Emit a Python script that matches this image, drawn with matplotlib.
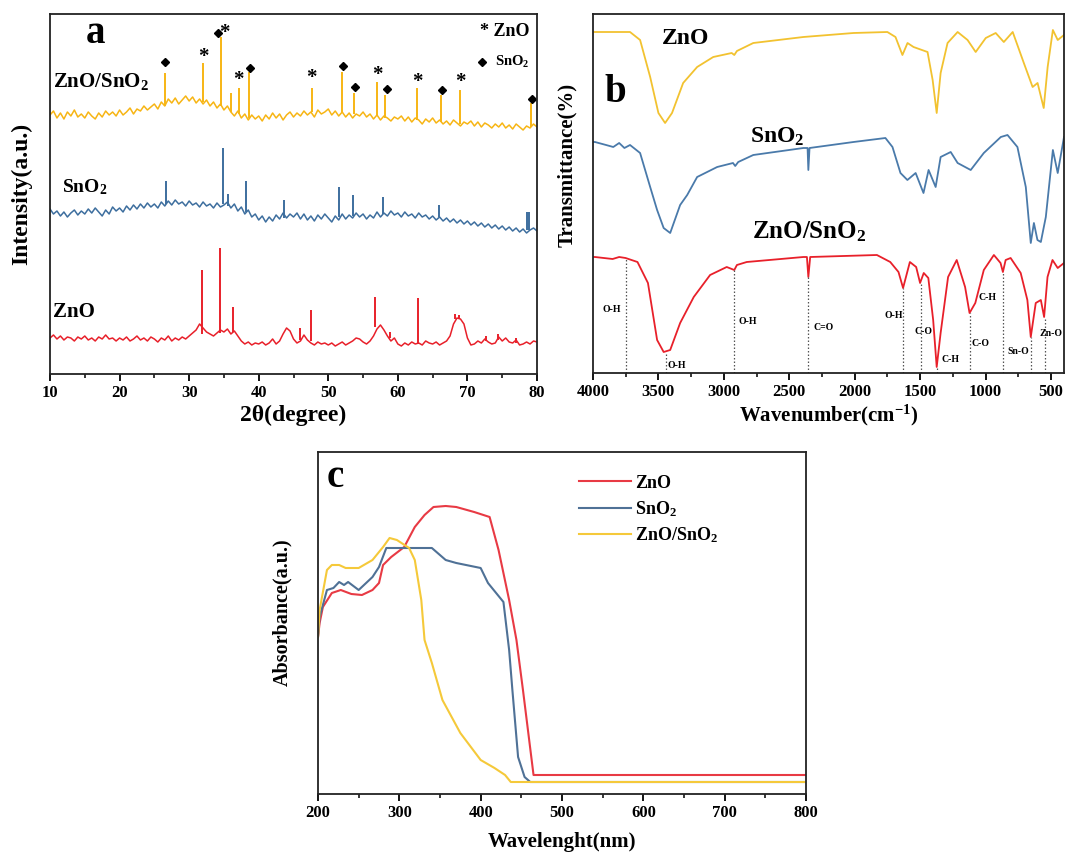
import matplotlib
matplotlib.use('Agg')
import matplotlib.pyplot as plt
import numpy as np
from matplotlib.ticker import MultipleLocator

plt.rcParams['font.family'] = ['Liberation Serif', 'DejaVu Sans']
plt.rcParams['font.weight'] = 'bold'
plt.rcParams['mathtext.fontset'] = 'custom'
plt.rcParams['mathtext.rm'] = 'Liberation Serif:bold'
plt.rcParams['mathtext.bf'] = 'Liberation Serif:bold'
plt.rcParams['mathtext.it'] = 'Liberation Serif:bold'

# ---------------- (a) XRD ----------------
xrd_theta = np.arange(10.0, 80.01, 0.5)
xrd_mix = [259, 263, 256, 261, 255, 262, 258, 264, 257, 260,
           256, 262, 258, 255, 261, 257, 263, 259, 262, 258,
           264, 259, 262, 266, 260, 265, 263, 268, 264, 267,
           270, 265, 272, 268, 275, 271, 276, 270, 274, 278,
           273, 277, 271, 275, 270, 274, 268, 272, 266, 270,
           264, 268, 262, 258, 263, 256, 260, 254, 259, 255,
           258, 253, 259, 255, 261, 256, 260, 254, 259, 262,
           257, 261, 258, 263, 259, 262, 257, 264, 260, 262,
           265, 259, 263, 258, 262, 257, 261, 256, 260, 258,
           262, 257, 260, 255, 259, 254, 258, 256, 253, 257,
           255, 258, 253, 257, 252, 256, 254, 250, 255, 252,
           256, 251, 254, 250, 253, 249, 254, 251, 248, 252,
           250, 253, 248, 252, 247, 251, 249, 246, 250, 247,
           251, 246, 249, 245, 250, 247, 244, 248, 246, 250,
           247]
xrd_sno2 = [165, 160, 163, 158, 162, 157, 161, 164, 159, 163,
            160, 165, 161, 166, 162, 158, 164, 160, 167, 163,
            166, 162, 168, 164, 169, 165, 170, 166, 171, 167,
            170, 166, 172, 168, 173, 169, 174, 170, 172, 168,
            173, 169, 171, 167, 172, 168, 170, 166, 171, 167,
            169, 172, 166, 170, 163, 167, 160, 164, 157, 160,
            154, 158, 152, 157, 153, 159, 155, 161, 156, 160,
            157, 161, 155, 160, 154, 158, 153, 159, 155, 160,
            156, 152, 158, 154, 160, 155, 159, 156, 161, 157,
            160, 155, 159, 156, 162, 157, 161, 158, 163, 159,
            161, 157, 162, 158, 160, 156, 161, 157, 159, 155,
            158, 154, 157, 153, 156, 152, 155, 151, 154, 150,
            153, 149, 152, 148, 151, 147, 150, 146, 149, 145,
            148, 144, 147, 143, 146, 142, 145, 141, 144, 146,
            143]
xrd_zno = [36, 39, 35, 38, 34, 37, 36, 33, 37, 35,
           38, 34, 36, 33, 37, 35, 39, 35, 36, 33,
           36, 34, 37, 33, 35, 38, 34, 36, 33, 37,
           35, 32, 36, 34, 38, 33, 36, 34, 37, 35,
           38, 41, 44, 50, 46, 42, 40, 38, 41, 44,
           42, 45, 40, 43, 38, 33, 30, 32, 29, 31,
           30, 32, 29, 31, 35, 30, 33, 40, 46, 43,
           35, 31, 33, 39, 34, 31, 29, 32, 30, 31,
           29, 31, 28, 30, 32, 29, 31, 33, 36, 35,
           32, 30, 33, 38, 45, 49, 44, 38, 33, 36,
           30, 28, 31, 29, 32, 30, 31, 29, 33, 31,
           30, 32, 29, 31, 33, 38, 50, 56, 55, 50,
           36, 29, 30, 33, 31, 35, 32, 30, 31, 37,
           33, 36, 32, 31, 34, 29, 30, 32, 30, 33,
           32]

mix_peak_pos = [26.5, 32.0, 34.6, 36.0, 37.1, 38.6, 47.6, 52.0, 53.7, 57.0, 58.2, 62.8, 66.2, 68.9, 79.2]
mix_peak_bot = [268, 272, 268, 262, 260, 256, 262, 262, 260, 258, 256, 254, 252, 250, 247]
mix_peak_top = [301, 311, 337, 281, 286, 302, 286, 302, 281, 292, 279, 286, 279, 284, 271]

sno2_peak_pos = [26.7, 34.8, 35.6, 38.2, 43.6, 51.6, 53.6, 57.9, 65.9, 78.6, 78.9]
sno2_peak_bot = [170, 170, 168, 162, 156, 157, 158, 160, 157, 144, 144]
sno2_peak_top = [193, 226, 180, 193, 174, 187, 179, 177, 169, 162, 162]

zno_peak_pos = [31.8, 34.45, 36.3, 46.0, 47.55, 56.65, 58.9, 62.9, 68.2, 68.8, 72.6, 74.4, 77.0]
zno_peak_bot = [40, 41, 42, 34, 33, 47, 36, 30, 55, 55, 33, 34, 31]
zno_peak_top = [104, 126, 67, 46, 64, 77, 42, 76, 60, 59, 38, 40, 36]

star_pos = [32.0, 35.0, 37.1, 47.6, 57.0, 62.8, 69.0]
star_y = [317, 341, 294, 296, 299, 292, 292]
diamond_pos = [26.5, 34.2, 38.7, 52.1, 53.8, 58.4, 66.3, 79.3]
diamond_y = [312, 341, 306, 308, 287, 285, 284, 275]

# ---------------- (b) FTIR ----------------
ir_zno_wn = [4000, 3985, 3717, 3640, 3563, 3500, 3449, 3396, 3311, 3204, 3081, 2940, 2920, 2900,
             2775, 2392, 2009, 1750, 1688, 1635, 1596, 1550, 1443, 1404, 1373, 1343, 1290, 1213,
             1137, 1075, 998, 922, 860, 792, 707, 640, 602, 555, 525, 485, 448, 400]
ir_zno_t = [341, 341, 341, 333, 296, 260, 250, 260, 290, 306, 316, 320, 318, 322,
            330, 336, 340, 341, 336, 318, 330, 326, 321, 293, 260, 300, 330, 341,
            333, 321, 335, 340, 331, 341, 310, 286, 290, 265, 306, 343, 333, 338]
ir_sno2_wn = [4000, 3985, 3900, 3845, 3800, 3760, 3717, 3640, 3563, 3510, 3460, 3410, 3334, 3280,
              3204, 3051, 2930, 2913, 2890, 2775, 2392, 2360, 2354, 2345, 2009, 1765, 1711, 1650,
              1597, 1534, 1474, 1435, 1381, 1343, 1266, 1213, 1113, 1013, 883, 832, 756, 692,
              654, 630, 603, 577, 539, 485, 448, 400]
ir_sno2_t = [231, 231, 228, 226, 230, 225, 228, 220, 186, 163, 145, 140, 168, 178,
             196, 206, 210, 207, 211, 218, 225, 225, 203, 225, 231, 235, 226, 200,
             193, 200, 180, 203, 186, 216, 221, 210, 203, 220, 236, 238, 226, 186,
             130, 150, 133, 131, 156, 223, 200, 236]
ir_mix_wn = [4000, 3985, 3850, 3800, 3751, 3660, 3580, 3510, 3460, 3410, 3334, 3230, 3105, 2978,
             2920, 2900, 2825, 2392, 2365, 2354, 2340, 1830, 1728, 1665, 1630, 1578, 1530, 1500,
             1472, 1437, 1400, 1373, 1343, 1286, 1220, 1156, 1122, 1078, 1013, 936, 885, 867,
             846, 808, 731, 680, 654, 616, 577, 552, 526, 488, 448, 400]
ir_mix_t = [116, 116, 114, 116, 115, 111, 90, 33, 21, 23, 50, 76, 98, 106,
            103, 108, 111, 116, 116, 96, 116, 118, 111, 101, 85, 111, 106, 90,
            100, 95, 53, 6, 40, 96, 113, 86, 60, 70, 103, 118, 110, 101,
            113, 115, 100, 73, 36, 70, 73, 56, 96, 113, 105, 110]

band_wn = [3751, 3441, 2920, 2354, 1630, 1496, 1373, 1122, 867, 650, 545]
band_top = [115, 21, 103, 96, 85, 90, 6, 60, 101, 36, 56]
band_labels = ['O-H', 'O-H', 'O-H', 'C=O', 'O-H', 'C-O', 'C-H', 'C-H', 'C-O', 'Sn-O', 'Zn-O']
band_label_wn = [3855, 3357, 2821, 2239, 1703, 1473, 1267, 983, 1037, 753, 501]
band_label_y = [63, 8, 51, 46, 58, 41, 13, 76, 30, 21, 40]

# ---------------- (c) UV-vis ----------------
uv_zno_wl = [200, 202, 206, 217, 228, 241, 254, 267, 275, 280, 290, 306, 319, 331, 342, 357, 370,
             392, 411, 422, 435, 444, 452, 465, 800]
uv_zno_a = [157, 171, 187, 201, 204, 200, 199, 204, 211, 229, 237, 247, 267, 279, 287, 288, 287,
            282, 277, 244, 194, 154, 104, 19, 19]
uv_sno2_wl = [200, 202, 211, 219, 226, 232, 237, 250, 267, 275, 284, 297, 340, 357, 370, 400, 409,
              428, 435, 439, 446, 454, 461, 800]
uv_sno2_a = [157, 177, 204, 206, 212, 209, 212, 204, 217, 227, 246, 246, 246, 234, 231, 226, 211,
             192, 144, 104, 37, 17, 12, 12]
uv_mix_wl = [200, 202, 211, 217, 226, 234, 250, 267, 280, 288, 297, 312, 319, 327, 331, 340, 353,
             375, 400, 417, 430, 437, 800]
uv_mix_a = [157, 184, 224, 229, 229, 226, 226, 234, 247, 256, 254, 246, 234, 194, 154, 131, 94,
            61, 34, 26, 19, 12, 12]

c_red = '#e8202a'
c_blue = '#3d6e9e'
c_yel = '#f7b514'

fig = plt.figure(figsize=(10.66, 8.58), dpi=100)
W, H = 1066, 858
ax_a = fig.add_axes([50 / W, 1 - 374 / H, 487 / W, 360 / H])
ax_b = fig.add_axes([593 / W, 1 - 373 / H, 471 / W, 359 / H])
ax_c = fig.add_axes([318 / W, 1 - 794 / H, 488 / W, 342 / H])

for ax in (ax_a, ax_b, ax_c):
    for s in ax.spines.values():
        s.set_linewidth(1.3)
        s.set_color('#222222')
    ax.tick_params(axis='x', which='major', direction='out', length=5, width=1.3, labelsize=12, pad=3)
    ax.tick_params(axis='x', which='minor', direction='out', length=3, width=1.1)
    ax.tick_params(axis='y', left=False, labelleft=False)
    for lab in ax.get_xticklabels():
        lab.set_fontweight('bold')

# panel a
ax_a.plot(xrd_theta, xrd_mix, color=c_yel, lw=1.1)
ax_a.vlines(mix_peak_pos, mix_peak_bot, mix_peak_top, color=c_yel, lw=1.4)
ax_a.plot(xrd_theta, xrd_sno2, color=c_blue, lw=1.1)
ax_a.vlines(sno2_peak_pos, sno2_peak_bot, sno2_peak_top, color=c_blue, lw=1.4)
ax_a.plot(xrd_theta, xrd_zno, color=c_red, lw=1.1)
ax_a.vlines(zno_peak_pos, zno_peak_bot, zno_peak_top, color=c_red, lw=1.4)
ax_a.plot(diamond_pos, diamond_y, 'D', color='black', ms=4)
for x, y in zip(star_pos, star_y):
    ax_a.text(x, y, '*', fontsize=15, ha='center', va='center', fontweight='bold')
ax_a.set_xlim(10, 80)
ax_a.set_ylim(0, 360)
ax_a.xaxis.set_major_locator(MultipleLocator(10))
ax_a.xaxis.set_minor_locator(MultipleLocator(5))
ax_a.set_xlabel('2θ(degree)', fontsize=17, fontweight='bold', labelpad=3)
ax_a.set_ylabel('Intensity(a.u.)', fontsize=17, fontweight='bold')
ax_a.yaxis.set_label_coords(-0.037, 0.5)
ax_a.text(0.094, 0.947, 'a', transform=ax_a.transAxes, fontsize=28, fontweight='bold', ha='center', va='center')
ax_a.text(0.985, 0.95, '* ZnO', transform=ax_a.transAxes, fontsize=13, fontweight='bold', ha='right', va='center')
ax_a.plot([0.887], [0.867], 'D', color='black', ms=4, transform=ax_a.transAxes)
ax_a.text(0.985, 0.867, 'SnO$_\\mathregular{2}$', transform=ax_a.transAxes, fontsize=10.5, fontweight='bold', ha='right', va='center')
ax_a.text(10.4, 292, 'ZnO/SnO$_\\mathregular{2}$', fontsize=15, fontweight='bold', ha='left', va='center')
ax_a.text(11.7, 187, 'SnO$_\\mathregular{2}$', fontsize=14, fontweight='bold', ha='left', va='center')
ax_a.text(10.4, 62, 'ZnO', fontsize=15, fontweight='bold', ha='left', va='center')

# panel b
ax_b.plot(ir_zno_wn, ir_zno_t, color='#f2c230', lw=1.3)
ax_b.plot(ir_sno2_wn, ir_sno2_t, color='#4a7aaa', lw=1.3)
ax_b.plot(ir_mix_wn, ir_mix_t, color=c_red, lw=1.3)
ax_b.vlines(band_wn, 0, band_top, colors='#555555', linestyles=(0, (1.2, 1.6)), lw=0.9)
for lab, x, y in zip(band_labels, band_label_wn, band_label_y):
    ax_b.text(x, y, lab, fontsize=7, fontweight='bold', ha='center', va='center')
ax_b.set_xlim(4000, 400)
ax_b.set_ylim(0, 359)
ax_b.xaxis.set_major_locator(MultipleLocator(500))
ax_b.xaxis.set_minor_locator(MultipleLocator(250))
ax_b.set_xlabel('Wavenumber(cm$^\\mathregular{-1}$)', fontsize=15, fontweight='bold', labelpad=2)
ax_b.set_ylabel('Transmittance(%)', fontsize=15, fontweight='bold')
ax_b.yaxis.set_label_coords(-0.034, 0.58)
ax_b.text(3832, 281, 'b', fontsize=28, fontweight='bold', ha='center', va='center')
ax_b.text(3296, 335, 'ZnO', fontsize=17, fontweight='bold', ha='center', va='center')
ax_b.text(2591, 236, 'SnO$_\\mathregular{2}$', fontsize=17, fontweight='bold', ha='center', va='center')
ax_b.text(2346, 141, 'ZnO/SnO$_\\mathregular{2}$', fontsize=18, fontweight='bold', ha='center', va='center')

# panel c
ax_c.plot(uv_zno_wl, uv_zno_a, color='#e83a44', lw=1.5, label='ZnO')
ax_c.plot(uv_sno2_wl, uv_sno2_a, color='#4f7196', lw=1.5, label='SnO$_\\mathregular{2}$')
ax_c.plot(uv_mix_wl, uv_mix_a, color='#f5c93a', lw=1.5, label='ZnO/SnO$_\\mathregular{2}$')
ax_c.set_xlim(200, 800)
ax_c.set_ylim(0, 342)
ax_c.xaxis.set_major_locator(MultipleLocator(100))
ax_c.xaxis.set_minor_locator(MultipleLocator(50))
ax_c.set_xlabel('Wavelenght(nm)', fontsize=15, fontweight='bold', labelpad=8)
ax_c.set_ylabel('Absorbance(a.u.)', fontsize=14.5, fontweight='bold')
ax_c.yaxis.set_label_coords(-0.053, 0.532)
ax_c.text(0.035, 0.925, 'c', transform=ax_c.transAxes, fontsize=28, fontweight='bold', ha='center', va='center')
ax_c.legend(loc='upper left', bbox_to_anchor=(0.52, 0.955), frameon=False, fontsize=13,
            handlelength=2.9, handletextpad=0.2, labelspacing=0.4, borderaxespad=0)

fig.savefig('out.png', dpi=100)
